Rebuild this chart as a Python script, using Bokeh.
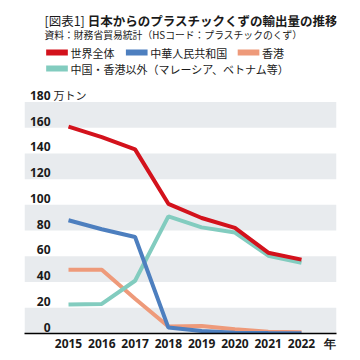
from bokeh.plotting import figure
from bokeh.layouts import column
from bokeh.models import Range1d, FixedTicker
from bokeh.core.properties import value
from bokeh.embed import file_html
from bokeh.resources import INLINE

# ---- data ----
years = [2015, 2016, 2017, 2018, 2019, 2020, 2021, 2022]
world = [160.8, 152.7, 143.1, 100.8, 89.8, 82.1, 62.8, 57.4]
china = [88.0, 81.0, 75.0, 4.6, 1.9, 0.6, 0.3, 0.2]
hongkong = [49.5, 49.5, 27.0, 5.4, 5.8, 3.3, 1.3, 1.0]
others = [22.5, 23.0, 41.0, 91.0, 82.5, 78.5, 60.5, 55.0]
series_names = ["世界全体", "中華人民共和国", "香港", "中国・香港以外（マレーシア、ベトナム等）"]
y_ticks = [0, 20, 40, 60, 80, 100, 120, 140, 160, 180]
band_lo = [0, 40, 80, 120, 160]
band_hi = [20, 60, 100, 140, 180]
unit_y = "万トン"
unit_x = "年"
title_tag = "[図表1]"
title_main = "日本からのプラスチックくずの輸出量の推移"
subtitle = "資料：財務省貿易統計（HSコード：プラスチックのくず）"

# ---- styles ----
RED = "#d3121c"
BLUE = "#4d7fbf"
ORANGE = "#ee9a7a"
TEAL = "#82ccbf"
BAND = "#e8ebee"
JP = "Noto Sans CJK JP"
LAT = "Noto Sans"
TXT = "#1a1a1a"

# ---- header figure (title + legend) ----
header = figure(width=360, height=86, x_range=Range1d(0, 360), y_range=Range1d(86, 0),
                toolbar_location=None, output_backend="svg", min_border=0,
                x_axis_location=None, y_axis_location=None, outline_line_color=None)
header.grid.visible = False

header.text(x=[23], y=[19.5], text=[title_tag], text_font=value(JP), text_font_size="12.5px",
            text_baseline="middle", text_align="left", text_color=TXT)
header.text(x=[73], y=[19.5], text=[title_main], text_font=value(JP), text_font_size="12.5px",
            text_font_style="bold", text_baseline="middle", text_align="left", text_color=TXT)
header.text(x=[23], y=[34.5], text=[subtitle], text_font=value(JP), text_font_size="9.8px",
            text_baseline="middle", text_align="left", text_color=TXT)

leg_colors = [RED, BLUE, ORANGE, TEAL]
leg_x = [25, 117, 246, 25]
leg_y = [52, 52, 52, 68]
header.quad(left=leg_x, right=[x + 25 for x in leg_x],
            top=[y - 3 for y in leg_y], bottom=[y + 3 for y in leg_y],
            fill_color=leg_colors, line_color=None)
header.text(x=[x + 28 for x in leg_x], y=leg_y, text=series_names, text_font=value(JP),
            text_font_size="11px", text_baseline="middle", text_align="left", text_color=TXT)

# ---- main chart ----
x_start, x_end = 2013.678, 2023.051
p = figure(width=360, height=274, x_range=Range1d(x_start, x_end), y_range=Range1d(0, 192),
           toolbar_location=None, output_backend="svg", y_axis_location=None,
           min_border_left=24, min_border_right=24, min_border_top=0, min_border_bottom=27,
           outline_line_color=None)
p.grid.visible = False

p.quad(left=x_start, right=x_end, bottom=band_lo, top=band_hi, fill_color=BAND, line_color=None)

p.line(years, hongkong, line_color=ORANGE, line_width=4)
p.line(years, others, line_color=TEAL, line_width=4)
p.line(years, china, line_color=BLUE, line_width=4)
p.line(years, world, line_color=RED, line_width=4)

p.text(x=[x_start] * len(y_ticks), y=y_ticks, text=[str(t) for t in y_ticks],
       x_offset=26, y_offset=-6.5, text_align="right", text_baseline="middle",
       text_font=value(LAT), text_font_size="12px", text_font_style="bold", text_color=TXT)
p.text(x=[x_start], y=[y_ticks[-1]], text=[unit_y], x_offset=29, y_offset=-6.5,
       text_align="left", text_baseline="middle",
       text_font=value(JP), text_font_size="11px", text_color=TXT)

unit_pos = 2022.87
p.xaxis.ticker = FixedTicker(ticks=years + [unit_pos])
p.xaxis.major_label_overrides = {unit_pos: unit_x}
p.xaxis.major_tick_line_color = None
p.xaxis.major_tick_out = 0
p.xaxis.major_tick_in = 0
p.xaxis.minor_tick_line_color = None
p.xaxis.minor_tick_out = 0
p.xaxis.axis_line_color = "#000000"
p.xaxis.axis_line_width = 1.5
p.xaxis.major_label_standoff = 1
p.xaxis.major_label_text_font = LAT
p.xaxis.major_label_text_font_size = "12px"
p.xaxis.major_label_text_font_style = "bold"
p.xaxis.major_label_text_color = TXT

layout = column(header, p, spacing=0)
open("out.html", "w").write(file_html(layout, INLINE))
